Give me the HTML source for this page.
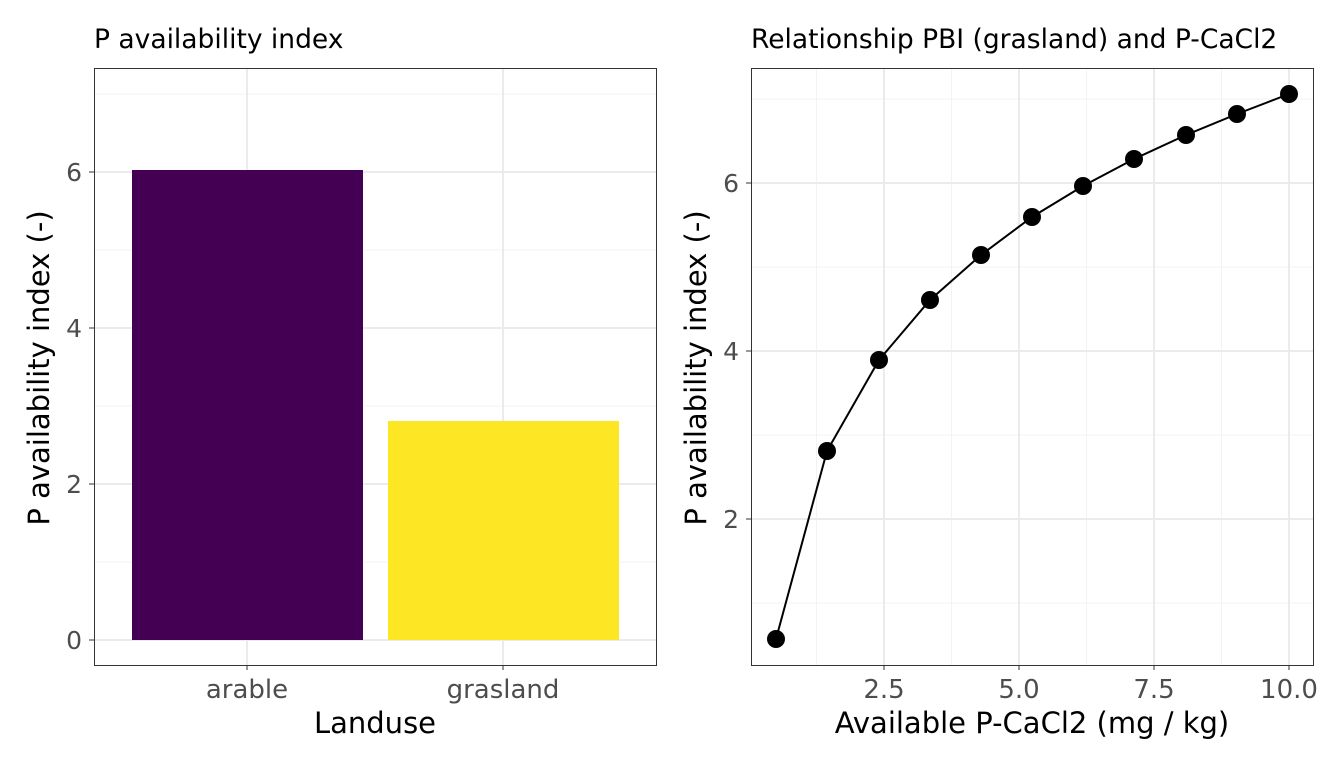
<!DOCTYPE html>
<html><head><meta charset="utf-8"><style>body{margin:0;background:#fff}svg{display:block}text{font-family:"DejaVu Sans","Liberation Sans",sans-serif}</style></head><body>
<svg width="1344" height="768" viewBox="0 0 1344 768">
<rect width="1344" height="768" fill="#fff"/>
<g stroke="#f3f3f3" stroke-width="1">
<line x1="94" x2="656" y1="562" y2="562"/><line x1="94" x2="656" y1="406" y2="406"/><line x1="94" x2="656" y1="250" y2="250"/><line x1="94" x2="656" y1="94" y2="94"/>
</g>
<g stroke="#ebebeb" stroke-width="2">
<line x1="94" x2="656" y1="640" y2="640"/><line x1="94" x2="656" y1="484" y2="484"/><line x1="94" x2="656" y1="328" y2="328"/><line x1="94" x2="656" y1="172" y2="172"/>
<line x1="247" x2="247" y1="68" y2="665"/><line x1="503" x2="503" y1="68" y2="665"/>
</g>
<rect x="132" y="170" width="231" height="470" fill="#440154"/>
<rect x="388" y="421" width="231" height="219" fill="#FDE725"/>
<rect x="94.5" y="68.5" width="562" height="597" fill="none" stroke="#333" stroke-width="1"/>
<g font-size="25" fill="#4d4d4d" text-anchor="end">
<text x="82" y="649">0</text><text x="82" y="493">2</text><text x="82" y="337">4</text><text x="82" y="181">6</text>
</g>
<g stroke="#333"><line x1="89" x2="94" y1="640" y2="640"/><line x1="89" x2="94" y1="484" y2="484"/><line x1="89" x2="94" y1="328" y2="328"/><line x1="89" x2="94" y1="172" y2="172"/>
<line x1="247" x2="247" y1="665" y2="670"/><line x1="503" x2="503" y1="665" y2="670"/></g>
<g font-size="26" fill="#4d4d4d" text-anchor="middle"><text x="247" y="698">arable</text><text x="503" y="698">grasland</text></g>
<text x="375" y="733" font-size="29" text-anchor="middle">Landuse</text>
<text transform="translate(49,368) rotate(-90)" font-size="29" text-anchor="middle">P availability index (-)</text>
<text x="94" y="48" font-size="26.5">P availability index</text>
<g stroke="#f3f3f3" stroke-width="1">
<line x1="751" x2="1313" y1="603" y2="603"/><line x1="751" x2="1313" y1="435" y2="435"/><line x1="751" x2="1313" y1="267" y2="267"/><line x1="751" x2="1313" y1="99" y2="99"/>
<line x1="816.5" x2="816.5" y1="68" y2="665"/><line x1="951.5" x2="951.5" y1="68" y2="665"/><line x1="1086.5" x2="1086.5" y1="68" y2="665"/><line x1="1221.5" x2="1221.5" y1="68" y2="665"/>
</g>
<g stroke="#ebebeb" stroke-width="2">
<line x1="751" x2="1313" y1="519" y2="519"/><line x1="751" x2="1313" y1="351" y2="351"/><line x1="751" x2="1313" y1="183" y2="183"/>
<line x1="884" x2="884" y1="68" y2="665"/><line x1="1019" x2="1019" y1="68" y2="665"/><line x1="1154" x2="1154" y1="68" y2="665"/><line x1="1289" x2="1289" y1="68" y2="665"/>
</g>
<polyline fill="none" stroke="#000" stroke-width="2" points="776,639 827,451 879,360 930,300 981,255 1032,217 1083,186 1134,159 1186,135 1237,114 1289,94"/>
<g fill="#000">
<circle cx="776" cy="639" r="9"/><circle cx="827" cy="451" r="9"/><circle cx="879" cy="360" r="9"/><circle cx="930" cy="300" r="9"/><circle cx="981" cy="255" r="9"/><circle cx="1032" cy="217" r="9"/><circle cx="1083" cy="186" r="9"/><circle cx="1134" cy="159" r="9"/><circle cx="1186" cy="135" r="9"/><circle cx="1237" cy="114" r="9"/><circle cx="1289" cy="94" r="9"/>
</g>
<rect x="751.5" y="68.5" width="562" height="597" fill="none" stroke="#333" stroke-width="1"/>
<g font-size="25" fill="#4d4d4d" text-anchor="end">
<text x="739" y="528">2</text><text x="739" y="360">4</text><text x="739" y="192">6</text>
</g>
<g stroke="#333"><line x1="746" x2="751" y1="519" y2="519"/><line x1="746" x2="751" y1="351" y2="351"/><line x1="746" x2="751" y1="183" y2="183"/>
<line x1="884" x2="884" y1="665" y2="670"/><line x1="1019" x2="1019" y1="665" y2="670"/><line x1="1154" x2="1154" y1="665" y2="670"/><line x1="1289" x2="1289" y1="665" y2="670"/></g>
<g font-size="26" fill="#4d4d4d" text-anchor="middle"><text x="884" y="698">2.5</text><text x="1019" y="698">5.0</text><text x="1154" y="698">7.5</text><text x="1289" y="698">10.0</text></g>
<text x="1032" y="733" font-size="29" text-anchor="middle">Available P-CaCl2 (mg / kg)</text>
<text transform="translate(706,368) rotate(-90)" font-size="29" text-anchor="middle">P availability index (-)</text>
<text x="751" y="48" font-size="26.5">Relationship PBI (grasland) and P-CaCl2</text>
</svg>
</body></html>
